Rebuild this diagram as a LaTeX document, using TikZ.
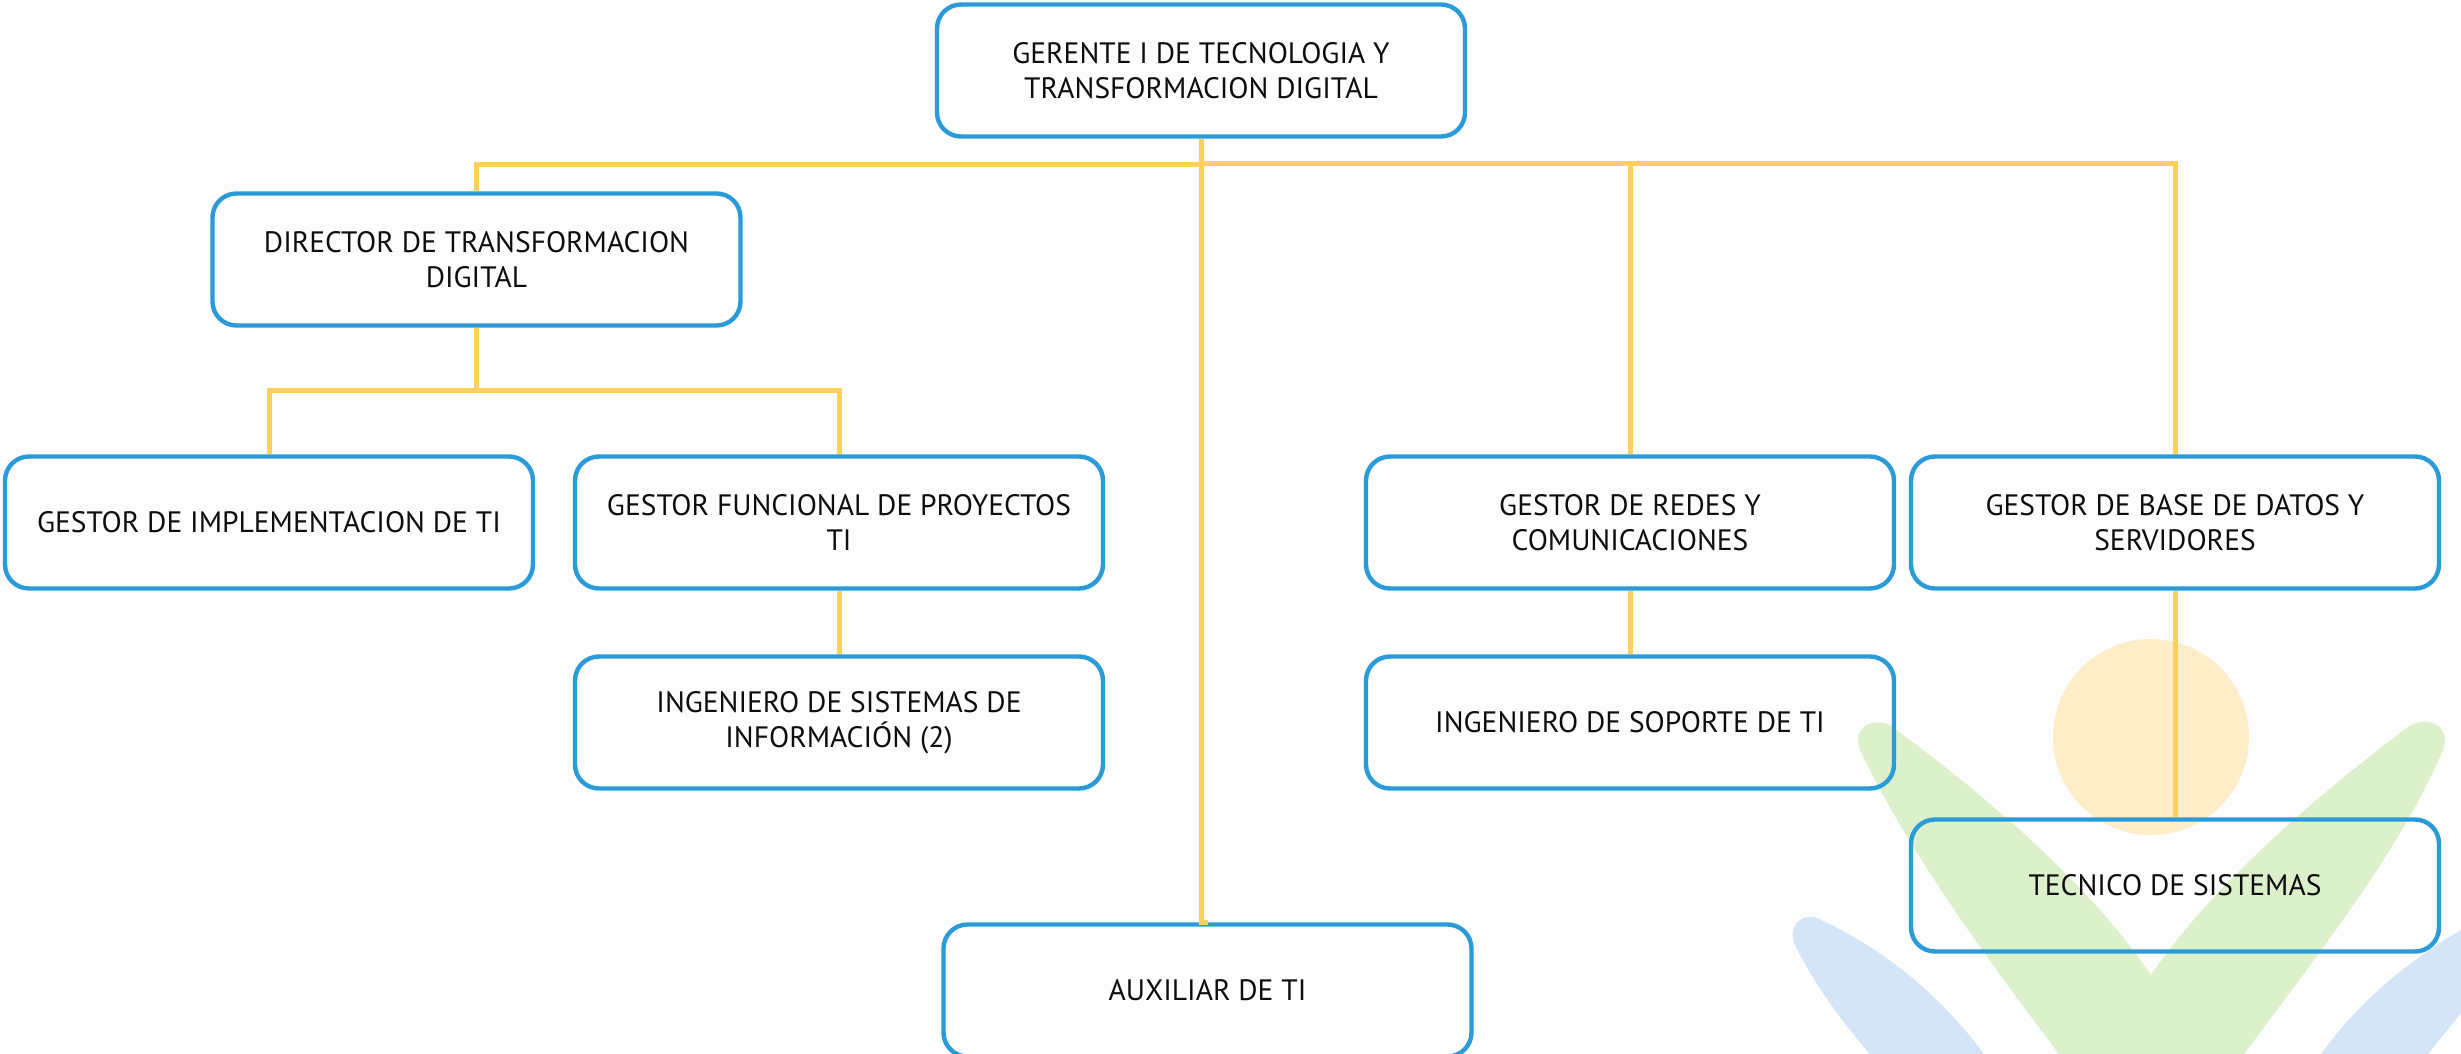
\documentclass[tikz,border=0pt]{standalone}
\usepackage{fontspec}
\setmainfont{PT Sans}
\definecolor{boxblue}{HTML}{2A9BD8}
\definecolor{linkyellow}{HTML}{FFCF5E}
\definecolor{wmgreen}{HTML}{DCF1CB}
\definecolor{wmblue}{HTML}{D4E5F8}
\definecolor{wmorange}{HTML}{FEEDC9}
\definecolor{paper}{HTML}{FDFDFD}
\tikzset{
  role/.style={draw=boxblue,line width=4.4pt,rounded corners=24pt,minimum width=528pt,minimum height=132pt,
    text width=500pt,align=flush center,inner sep=0pt,font=\fontsize{29.5}{34.5}\selectfont,text=black!95},
  link/.style={draw=linkyellow,line width=5pt}
}
\begin{document}
\begin{tikzpicture}[x=1pt,y=-1pt]
\useasboundingbox (0,0) rectangle (2461,1054);
\fill[paper] (0,0) rectangle (2461,1054);
% watermark
\begin{scope}
\clip (0,0) rectangle (2461,1054);
\fill[wmblue] (1795,945) .. controls (1786,925) and (1805,910) .. (1821,920)
  .. controls (1885,950) and (1940,995) .. (1984,1054) -- (1870,1054)
  .. controls (1840,1020) and (1812,980) .. (1795,945) -- cycle;
\fill[wmblue] (2321,1054) .. controls (2360,1000) and (2410,960) .. (2461,930)
  -- (2461,1013) -- (2428,1054) -- cycle;
\fill[wmgreen] (1860,750) .. controls (1850,725) and (1880,712) .. (1899,732)
  .. controls (1985,795) and (2090,885) .. (2151,975)
  .. controls (2212,885) and (2318,795) .. (2404,730)
  .. controls (2425,712) and (2452,725) .. (2443,750)
  .. controls (2400,850) and (2325,945) .. (2244,1054)
  -- (2059,1054) .. controls (1980,950) and (1905,845) .. (1860,750) -- cycle;
\fill[wmorange] (2151,737) ellipse [x radius=98,y radius=98];
\end{scope}
% boxes
\node[role] (ger) at (1201,70.5) {GERENTE I DE TECNOLOGIA Y\\TRANSFORMACION DIGITAL};
\node[role] (dir) at (476.5,259.5) {DIRECTOR DE TRANSFORMACION\\DIGITAL};
\node[role] (imp) at (269,522.5) {GESTOR DE IMPLEMENTACION DE TI};
\node[role] (fun) at (839,522.5) {GESTOR FUNCIONAL DE PROYECTOS\\TI};
\node[role] (ing) at (839,722.5) {INGENIERO DE SISTEMAS DE\\INFORMACIÓN (2)};
\node[role] (red) at (1630,522.5) {GESTOR DE REDES Y\\COMUNICACIONES};
\node[role] (sop) at (1630,722.5) {INGENIERO DE SOPORTE DE TI};
\node[role] (bas) at (2175,522.5) {GESTOR DE BASE DE DATOS Y\\SERVIDORES};
\node[role] (tec) at (2175,885.5) {TECNICO DE SISTEMAS};
\node[role] (aux) at (1207.5,990.5) {AUXILIAR DE TI};
% connectors
\coordinate (busL) at (1201,165);
\coordinate (busR) at (1201,164);
\coordinate (jun) at (476.5,390);
\draw[link] (ger.south) -- (ger.south |- aux.north) -- (aux.north);
\draw[link] (busL) -| (dir.north);
\draw[link] (busR) -| (red.north);
\draw[link] (busR) -| (bas.north);
\draw[link] (dir.south) -- (jun);
\draw[link] (jun) -| (imp.north);
\draw[link] (jun) -| (fun.north);
\draw[link] (fun.south) -- (ing.north);
\draw[link] (red.south) -- (sop.north);
\draw[link] (bas.south) -- (tec.north);
\end{tikzpicture}
\end{document}
